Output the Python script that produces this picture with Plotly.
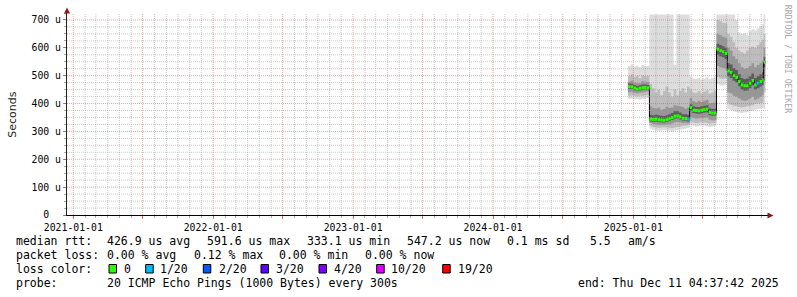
import plotly.graph_objects as go
from datetime import datetime

# ---------------- data ----------------
dates = ["2024-12-18", "2024-12-25", "2025-01-01", "2025-01-08", "2025-01-15", "2025-01-22", "2025-01-29", "2025-02-05",
         "2025-02-12", "2025-02-19", "2025-02-26", "2025-03-05", "2025-03-12", "2025-03-19", "2025-03-26", "2025-04-02",
         "2025-04-09", "2025-04-16", "2025-04-23", "2025-04-30", "2025-05-07", "2025-05-14", "2025-05-21",
         "2025-05-28", "2025-06-04", "2025-06-11", "2025-06-18", "2025-06-25", "2025-07-02", "2025-07-09", "2025-07-16",
         "2025-07-23", "2025-07-30",
         "2025-08-06", "2025-08-13", "2025-08-20", "2025-08-27",
         "2025-09-03", "2025-09-10", "2025-09-17", "2025-09-24", "2025-10-01", "2025-10-08", "2025-10-15", "2025-10-22",
         "2025-10-29", "2025-11-05", "2025-11-12", "2025-11-19", "2025-11-26", "2025-12-03",
         "2025-12-07"]
end_date = "2025-12-11 04:37:42"

# median rtt (microseconds)
median = [461, 460, 456, 452, 455, 457, 458, 456,
          344, 343, 344, 342, 341, 340, 342, 345, 350, 355, 356, 352, 347, 346, 344,
          385, 376, 375, 374, 376, 378, 380, 368, 366, 367,
          595, 590, 586, 580,
          517, 512, 500, 494, 479, 467, 464, 464, 473, 483, 467, 473, 479, 485,
          548]
# lost pings out of 20
loss = [0] * 22 + [1] + [0] * 25 + [1] + [0] * 3

# smoke: sorted-ping quantiles (microseconds)
p_min = [416, 418, 415, 417, 414, 416, 418, 420,
         310, 306, 304, 302, 303, 305, 303, 302, 300, 302, 304, 306, 308, 310, 312,
         322, 320, 318, 319, 321, 320, 318, 316, 318, 320,
         470, 466, 464, 468,
         380, 376, 372, 370, 368, 366, 368, 370, 372, 374, 378, 380, 382, 384,
         380]
p10 = [428, 430, 427, 426, 428, 427, 430, 431,
       320, 316, 314, 313, 314, 315, 314, 313, 312, 314, 316, 318, 320, 321, 322,
       335, 332, 330, 331, 333, 332, 330, 328, 330, 332,
       495, 490, 488, 492,
       400, 396, 392, 390, 388, 386, 388, 390, 392, 394, 398, 400, 402, 404,
       440]
p25 = [441, 442, 439, 437, 440, 440, 442, 443,
       330, 327, 325, 324, 324, 324, 325, 326, 328, 332, 334, 333, 330, 330, 329,
       352, 348, 346, 347, 348, 349, 350, 342, 340, 342,
       535, 530, 528, 526,
       440, 436, 428, 424, 418, 412, 410, 412, 418, 424, 414, 418, 424, 430,
       480]
p40 = [453, 452, 448, 445, 447, 449, 451, 449,
       336, 335, 336, 334, 333, 332, 334, 337, 341, 346, 347, 343, 339, 338, 336,
       374, 366, 364, 363, 365, 367, 369, 358, 356, 357,
       575, 570, 566, 560,
       498, 492, 482, 476, 462, 450, 446, 447, 455, 465, 450, 455, 461, 467,
       530]
p60 = [472, 471, 467, 463, 466, 468, 469, 467,
       360, 358, 360, 358, 356, 355, 358, 362, 366, 372, 372, 368, 362, 362, 360,
       398, 390, 388, 388, 390, 392, 394, 382, 380, 381,
       615, 610, 606, 600,
       545, 540, 528, 520, 505, 492, 488, 490, 498, 508, 492, 498, 505, 512,
       568]
p75 = [478, 482, 476, 474, 474, 480, 478, 477,
       390, 385, 382, 386, 378, 380, 388, 384, 386, 395, 392, 390, 388, 382, 386,
       420, 408, 405, 410, 406, 410, 414, 400, 402, 404,
       650, 645, 640, 636,
       600, 590, 570, 560, 545, 530, 525, 528, 535, 545, 530, 538, 545, 552,
       600]
p90 = [498, 505, 495, 500, 492, 502, 498, 500,
       470, 455, 440, 450, 430, 445, 460, 440, 425, 450, 430, 445, 455, 440, 460,
       450, 440, 438, 445, 436, 442, 448, 436, 440, 446,
       700, 695, 690, 688,
       650, 640, 620, 600, 590, 585, 580, 590, 600, 605, 600, 610, 620, 630,
       650]
p_max = [535, 540, 532, 536, 530, 538, 534, 536,
         720, 720, 720, 720, 720, 720, 720, 720, 720, 540, 720, 720, 720, 720, 720,
         495, 490, 488, 492, 486, 490, 494, 488, 492, 496,
         720, 720, 720, 720,
         720, 720, 720, 700, 655, 650, 652, 645, 660, 668, 662, 670, 678, 685,
         720]

y_ticks = [0, 100, 200, 300, 400, 500, 600, 700]
y_labels = ["0\u00a0\u00a0", "100 u", "200 u", "300 u", "400 u", "500 u", "600 u", "700 u"]
x_ticks = ["2021-01-01", "2021-07-01", "2022-01-01", "2022-07-01", "2023-01-01", "2023-07-01",
           "2024-01-01", "2024-07-01", "2025-01-01", "2025-07-01"]
x_labels = ["2021-01-01", "", "2022-01-01", "", "2023-01-01", "", "2024-01-01", "", "2025-01-01", ""]

loss_levels = ["0", "1/20", "2/20", "3/20", "4/20", "10/20", "19/20"]
loss_colors = ["#26ff00", "#00b8ff", "#0059ff", "#5e00ff", "#7e00ff", "#dd00ff", "#ff0000"]
loss_color_by_count = {0: "#26ff00", 1: "#00b8ff", 2: "#0059ff", 3: "#5e00ff", 4: "#7e00ff", 10: "#dd00ff", 19: "#ff0000"}

stats_rtt = ["426.9 us avg", "591.6 us max", "333.1 us min", "547.2 us now", "0.1 ms sd", "5.5", "am/s"]
stats_loss = ["0.00 % avg", "0.12 % max", "0.00 % min", "0.00 % now"]
probe_text = "20 ICMP Echo Pings (1000 Bytes) every 300s"
end_text = "end: Thu Dec 11 04:37:42 2025"

# ---------------- geometry ----------------
W, H = 797, 297
L, R, T, B = 67, 768, 13, 215
X_RANGE = ["2020-12-15 14:00", "2025-12-18 09:00"]
Y_RANGE = [0, 725]
MONO = "DejaVu Sans Mono"


def px(x):
    return (x - L) / (R - L)


def py(y):
    return (B - y) / (B - T)


xe = dates + [end_date]


def ext(a):
    return list(a) + [a[-1]]


fig = go.Figure()

# smoke bands, outer to inner
bands = [(p_min, p_max, "#dddddd"), (p10, p90, "#bdbdbd"), (p25, p75, "#979797"), (p40, p60, "#5c5c5c")]
for lo, hi, col in bands:
    fig.add_trace(go.Scatter(x=xe, y=ext(lo), mode="lines", line=dict(width=0, shape="hv"),
                             showlegend=False, hoverinfo="skip"))
    fig.add_trace(go.Scatter(x=xe, y=ext(hi), mode="lines", line=dict(width=0, shape="hv"),
                             fill="tonexty", fillcolor=col, showlegend=False, hoverinfo="skip"))

# thin black median line (shows the vertical transitions)
fig.add_trace(go.Scatter(x=xe, y=ext(median), mode="lines", line=dict(color="#000000", width=1, shape="hv"),
                         showlegend=False, hoverinfo="skip"))

# ---------------- grid (over the smoke, under the coloured median) ----------------
MINOR = "rgba(150,150,150,0.5)"
MAJOR = "rgba(215,80,80,0.5)"
major_x = set(x_ticks)
gx = {MINOR: ([], []), MAJOR: ([], [])}
for yr in range(2021, 2026):
    for mo in range(1, 13):
        d = f"{yr}-{mo:02d}-01"
        xs, ys = gx[MAJOR if d in major_x else MINOR]
        xs += [d, d, None]
        ys += [Y_RANGE[0], Y_RANGE[1], None]
for col, (xs, ys) in gx.items():
    fig.add_trace(go.Scatter(x=xs, y=ys, mode="lines", line=dict(color=col, width=1, dash="1px,1px"),
                             showlegend=False, hoverinfo="skip"))
gy = {MINOR: ([], []), MAJOR: ([], [])}
for v in range(25, 725, 25):
    xs, ys = gy[MAJOR if v % 100 == 0 else MINOR]
    xs += [X_RANGE[0], X_RANGE[1], None]
    ys += [v, v, None]
for col, (xs, ys) in gy.items():
    fig.add_trace(go.Scatter(x=xs, y=ys, mode="lines", line=dict(color=col, width=1, dash="1px,1px"),
                             showlegend=False, hoverinfo="skip"))

# ---------------- loss-coloured median segments (overlaid subplot, on top) ----------------
t = [datetime.fromisoformat(d) for d in xe]
seg = {}
for i, v in enumerate(loss):
    col = loss_color_by_count[v]
    xs, ys = seg.setdefault(col, ([], []))
    xs += [t[i], t[i + 1], None]
    ys += [median[i], median[i], None]
for col, (xs, ys) in seg.items():
    fig.add_trace(go.Scatter(x=xs, y=ys, mode="lines", line=dict(color=col, width=3),
                             xaxis="x2", yaxis="y2", showlegend=False, hoverinfo="skip"))

shapes = []
# axis arrows
ARROW = "#8c1a1a"
shapes.append(dict(type="path", xref="paper", yref="paper", layer="above",
                   path=f"M {px(64)} {py(13.5)} L {px(70)} {py(13.5)} L {px(67)} {py(7.5)} Z",
                   fillcolor=ARROW, line=dict(width=0)))
shapes.append(dict(type="path", xref="paper", yref="paper", layer="above",
                   path=f"M {px(767.5)} {py(212.5)} L {px(767.5)} {py(218.5)} L {px(773.5)} {py(215.5)} Z",
                   fillcolor=ARROW, line=dict(width=0)))

# legend colour boxes
box_x = [109, 145.7, 203.3, 261, 319, 376.7, 442.7]
for bx, col in zip(box_x, loss_colors):
    shapes.append(dict(type="rect", xref="paper", yref="paper",
                       x0=px(bx), x1=px(bx + 7.5), y0=py(264.5), y1=py(273),
                       fillcolor=col, line=dict(color="#000000", width=1)))

# ---------------- texts ----------------
ann = []


def text(s, x, y, size=11.5, anchor="left", color="#000000", family=MONO, angle=0):
    ann.append(dict(text=s, x=px(x), y=py(y), xref="paper", yref="paper", showarrow=False,
                    xanchor=anchor, yanchor="middle", borderpad=0, textangle=angle,
                    font=dict(family=family, size=size, color=color)))


LX = 15.3
text("median rtt:", LX, 241)
for s, x in zip(stats_rtt, [107, 207, 307, 407, 507, 590, 628]):
    text(s, x - 0.7, 241)
text("packet loss:", LX, 255)
for s, x in zip(stats_loss, [107, 193.3, 279, 365]):
    text(s, x - 0.7, 255)
text("loss color:", LX, 269)
for s, x in zip(loss_levels, [123.3, 160, 218.3, 275.7, 333.3, 391, 457.3]):
    text(s, x - 0.7, 269)
text("probe:", LX, 283)
text(probe_text, 106.3, 283)
text(end_text, 577.3, 283)

text("Seconds", 11.7, 115, size=11, anchor="center", color="#222222", family="DejaVu Sans", angle=-90)
text("RRDTOOL / TOBI OETIKER", 788.3, 59, size=8.2, anchor="center", color="#a8a8a8", angle=90)

fig.update_layout(
    width=W, height=H, margin=dict(l=L, r=W - R, t=T, b=H - B, pad=0),
    paper_bgcolor="#ffffff", plot_bgcolor="#ffffff",
    showlegend=False,
    shapes=shapes, annotations=ann,
    xaxis=dict(type="date", range=X_RANGE, tickvals=x_ticks, ticktext=x_labels,
               showgrid=False, zeroline=False, showline=True, linecolor="#000000", linewidth=1,
               ticks="outside", ticklen=3, tickcolor="rgba(215,80,80,0.8)", tickwidth=1,
               tickfont=dict(family=MONO, size=9.8, color="#000000"),
               minor=dict(dtick="M1", tick0="2021-01-01", ticks="outside", ticklen=2,
                          tickcolor="rgba(150,150,150,0.8)", showgrid=False),
               layer="above traces", fixedrange=True),
    yaxis=dict(range=Y_RANGE, tickvals=y_ticks, ticktext=y_labels,
               showgrid=False, zeroline=False, showline=True, linecolor="#222222", linewidth=1,
               ticks="outside", ticklen=3, tickcolor="rgba(215,80,80,0.8)", tickwidth=1,
               tickfont=dict(family=MONO, size=9.8, color="#000000"),
               minor=dict(dtick=25, ticks="outside", ticklen=2, tickcolor="rgba(150,150,150,0.8)",
                          showgrid=False),
               layer="above traces", fixedrange=True),
    xaxis2=dict(type="date", range=X_RANGE, overlaying="x", visible=False, fixedrange=True),
    yaxis2=dict(range=Y_RANGE, overlaying="y", visible=False, fixedrange=True),
)

fig.write_html("out.html")
